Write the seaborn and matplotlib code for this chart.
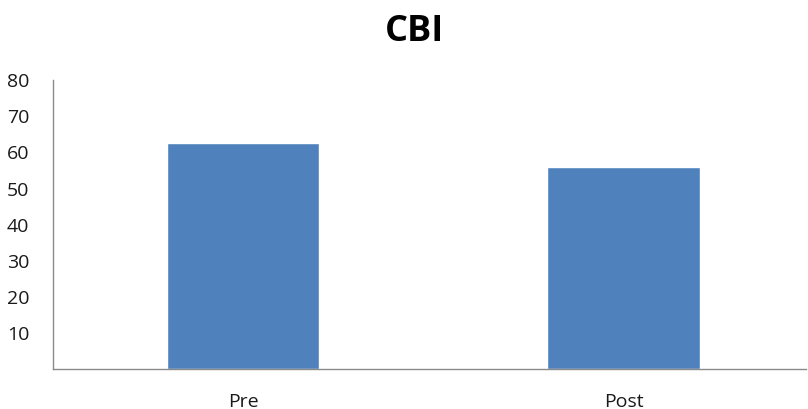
import matplotlib
matplotlib.use("Agg")
import matplotlib.pyplot as plt
import seaborn as sns
import pandas as pd

categories = ["Pre", "Post"]
values = [62.6, 55.9]
y_ticks = [10, 20, 30, 40, 50, 60, 70, 80]

sns.set_style("white")
plt.rcParams["font.family"] = ["Open Sans", "DejaVu Sans"]

df = pd.DataFrame({"phase": categories, "score": values})

fig = plt.figure(figsize=(8.08, 4.09), dpi=100)
ax = fig.add_axes([0.0656, 0.0978, 0.932, 0.706])

sns.barplot(data=df, x="phase", y="score", color="#4F81BD", width=0.4,
            saturation=1, ax=ax, order=categories)

ax.set_ylim(0, 80)
ax.set_xlim(-0.5, 1.48)
ax.set_yticks(y_ticks)
ax.set_yticklabels([str(t) for t in y_ticks])
ax.set_xlabel("")
ax.set_ylabel("")
ax.tick_params(axis="y", length=0, pad=17, labelsize=14, labelcolor="#1a1a1a")
ax.tick_params(axis="x", length=0, pad=17, labelsize=14, labelcolor="#1a1a1a")

for side in ["top", "right"]:
    ax.spines[side].set_visible(False)
for side in ["left", "bottom"]:
    ax.spines[side].set_color("#8a8a8a")
    ax.spines[side].set_linewidth(1.0)

fig.text(0.513, 0.922, "CBI", ha="center", va="center", fontsize=26,
         fontweight="bold", color="#000000")

fig.savefig("out.png", dpi=100)
